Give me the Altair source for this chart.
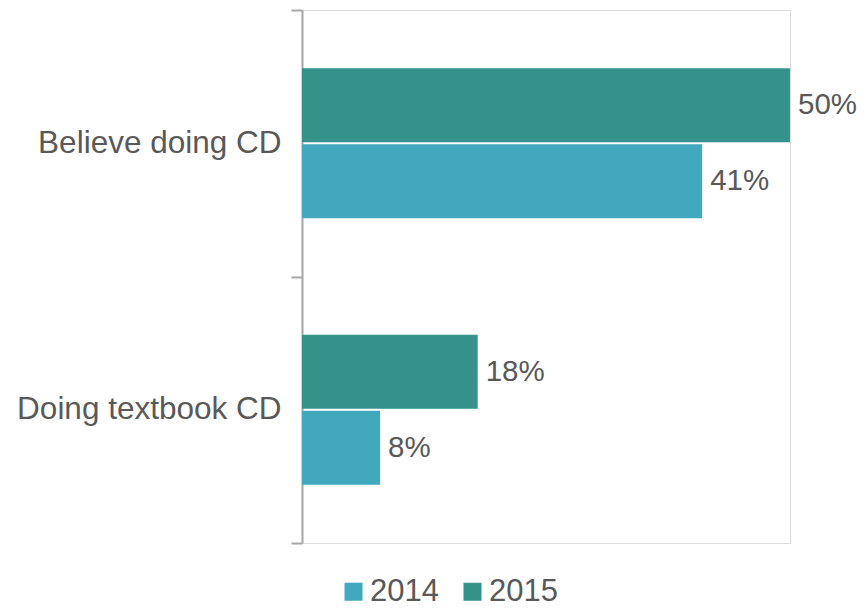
import altair as alt
import pandas as pd

categories = ["Believe doing CD", "Doing textbook CD"]
years = ["2014", "2015"]
values_2014 = [0.41, 0.08]
values_2015 = [0.50, 0.18]
colors = ["#41a8bd", "#34928a"]

rows = []
for i, c in enumerate(categories):
    rows.append({"category": c, "year": "2014", "value": values_2014[i]})
    rows.append({"category": c, "year": "2015", "value": values_2015[i]})
df = pd.DataFrame(rows)

FONT = "Liberation Sans"
GRAY = "#595959"

y = alt.Y(
    "category:N",
    sort=categories,
    title=None,
    scale=alt.Scale(paddingInner=0, paddingOuter=0),
    axis=alt.Axis(
        tickBand="extent",
        tickSize=11,
        tickWidth=2,
        tickColor="#a6a6a6",
        domainColor="#a6a6a6",
        domainWidth=2,
        labelPadding=10,
        labelFontSize=31.5,
        labelColor=GRAY,
        labelFont=FONT,
        labelLimit=400,
    ),
)
yoff = alt.YOffset(
    "year:N",
    sort=["2015", "2014"],
    scale=alt.Scale(paddingInner=0.026, paddingOuter=0.767),
)
x = alt.X("value:Q", scale=alt.Scale(domain=[0, 0.5]), axis=None)
color = alt.Color(
    "year:N",
    scale=alt.Scale(domain=years, range=colors),
    legend=alt.Legend(
        title=None,
        orient="none",
        legendX=36,
        legendY=566,
        direction="horizontal",
        symbolType="square",
        symbolSize=324,
        symbolStrokeWidth=0,
        symbolOpacity=1,
        labelFontSize=31,
        labelColor=GRAY,
        labelFont=FONT,
        labelOffset=1,
        columnPadding=18,
    ),
)

bars = alt.Chart(df).mark_bar().encode(x=x, y=y, yOffset=yoff, color=color)
labels = alt.Chart(df).mark_text(
    align="left", baseline="middle", dx=8, fontSize=29.5, color=GRAY, font=FONT
).encode(
    x=x, y=y, yOffset=yoff, text=alt.Text("value:Q", format=".0%")
)

chart = (
    alt.layer(bars, labels)
    .properties(
        width=488,
        height=533,
        autosize=alt.AutoSizeParams(type="none"),
        padding={"left": 294, "top": 2, "right": 68, "bottom": 64},
    )
    .configure_view(stroke="transparent", strokeWidth=0)
    .configure(font=FONT)
)

chart.save("out.html", embed_options={"renderer": "svg", "actions": False})
